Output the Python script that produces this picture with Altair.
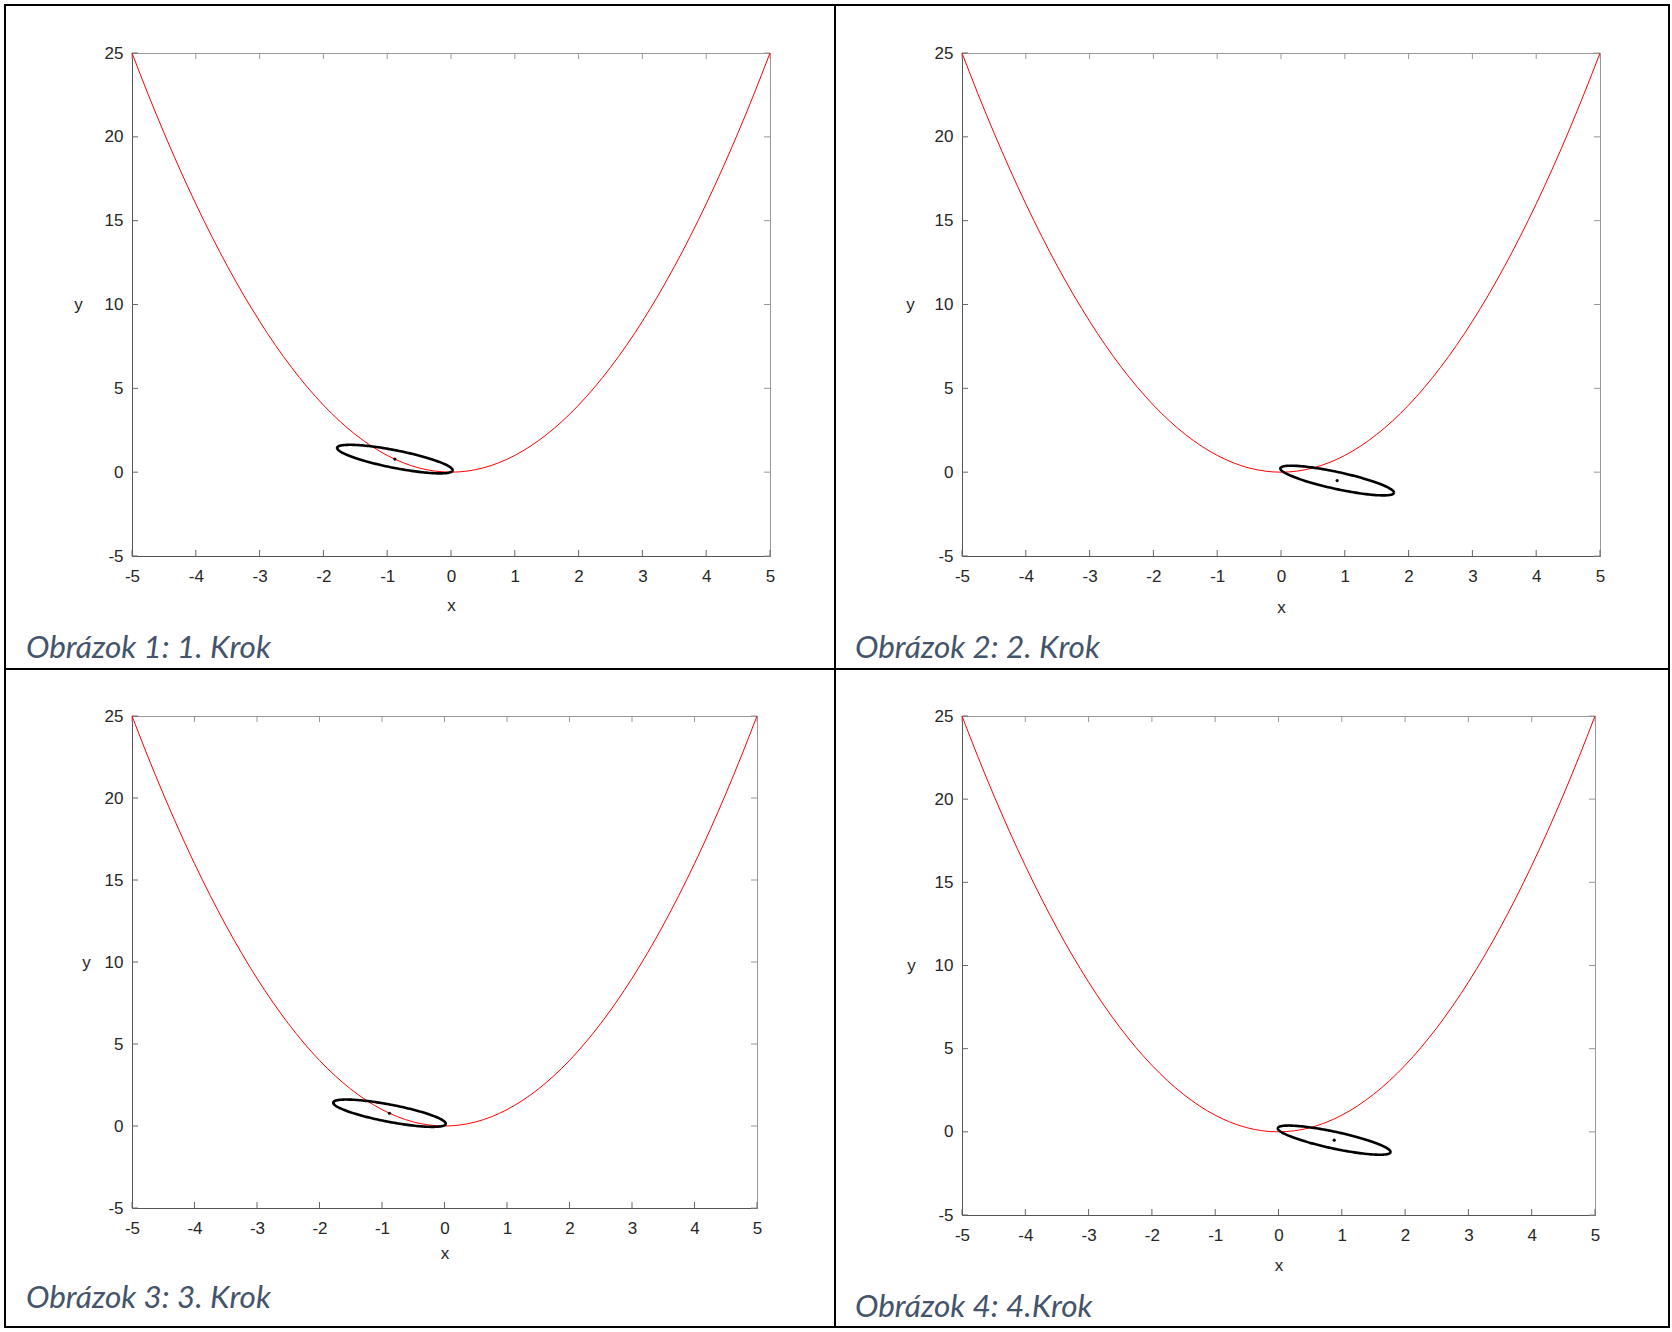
import altair as alt
import pandas as pd
import numpy as np

# ---------------- data ----------------
PARABOLA_X = [-5, -4.75, -4.5, -4.25, -4, -3.75, -3.5, -3.25, -3, -2.75, -2.5, -2.25, -2, -1.75,
              -1.5, -1.25, -1, -0.75, -0.5, -0.25, 0, 0.25, 0.5, 0.75, 1, 1.25, 1.5, 1.75, 2,
              2.25, 2.5, 2.75, 3, 3.25, 3.5, 3.75, 4, 4.25, 4.5, 4.75, 5]
PARABOLA_Y = [25, 22.5625, 20.25, 18.0625, 16, 14.0625, 12.25, 10.5625, 9, 7.5625, 6.25, 5.0625,
              4, 3.0625, 2.25, 1.5625, 1, 0.5625, 0.25, 0.0625, 0, 0.0625, 0.25, 0.5625, 1,
              1.5625, 2.25, 3.0625, 4, 5.0625, 6.25, 7.5625, 9, 10.5625, 12.25, 14.0625, 16,
              18.0625, 20.25, 22.5625, 25]
X_TICKS = [-5, -4, -3, -2, -1, 0, 1, 2, 3, 4, 5]
Y_TICKS = [-5, 0, 5, 10, 15, 20, 25]
CAPTIONS = ["Obrázok 1: 1. Krok", "Obrázok 2: 2. Krok", "Obrázok 3: 3. Krok", "Obrázok 4: 4.Krok"]

# ellipse (estimate + uncertainty) per step: centre and conjugate semi-axes
CENTER_X = [-0.88, 0.88, -0.88, 0.88]
CENTER_Y = [0.78, -0.50, 0.78, -0.50]
MAJOR_DX = [0.905, 0.89, 0.90, 0.89]
MAJOR_DY = [-0.675, -0.73, -0.65, -0.72]
MINOR_DX = [0.02, 0.02, 0.02, 0.02]
MINOR_DY = [0.52, 0.50, 0.52, 0.50]

# ---------------- layout ----------------
PANEL_W = [638, 638, 625, 633]
PANEL_H = [503, 503, 492, 499]
YTITLE_X = [-54, -52, -46, -51]
XTITLE_Y = [49, 51, 45, 50]
CAP_X = [-106, -107, -106, -107]
CAP_Y = [605, 605, 592, 601]

AXIS_DARK = "#555555"
TEXT_COL = "#262626"
FONT = "Liberation Sans"

par_df = pd.DataFrame({"x": PARABOLA_X, "y": PARABOLA_Y})
xt_df = pd.DataFrame({"v": X_TICKS})
yt_df = pd.DataFrame({"v": Y_TICKS})


def ellipse_df(i):
    t = np.linspace(0, 2 * np.pi, 181)
    return pd.DataFrame({
        "t": np.arange(len(t)),
        "x": CENTER_X[i] + MAJOR_DX[i] * np.cos(t) + MINOR_DX[i] * np.sin(t),
        "y": CENTER_Y[i] + MAJOR_DY[i] * np.cos(t) + MINOR_DY[i] * np.sin(t),
    })


def panel(i):
    W, H = PANEL_W[i], PANEL_H[i]
    xs = alt.Scale(domain=[-5, 5], nice=False, zero=False)
    ys = alt.Scale(domain=[-5, 25], nice=False, zero=False)
    xaxis = alt.Axis(values=X_TICKS, ticks=False, tickSize=0, grid=False,
                     domainColor=AXIS_DARK, domainWidth=1,
                     labelFont=FONT, labelFontSize=17, labelColor=TEXT_COL,
                     labelPadding=12, labelExpr="'' + datum.value",
                     labelFlush=False, labelOverlap=False,
                     title="x", titleFont=FONT, titleFontSize=17, titleFontWeight="normal",
                     titleColor=TEXT_COL, titleX=W / 2, titleY=XTITLE_Y[i],
                     titleAlign="center", titleBaseline="middle")
    yaxis = alt.Axis(values=Y_TICKS, ticks=False, tickSize=0, grid=False,
                     domainColor=AXIS_DARK, domainWidth=1,
                     labelFont=FONT, labelFontSize=17, labelColor=TEXT_COL,
                     labelPadding=9, labelExpr="'' + datum.value",
                     labelFlush=False, labelOverlap=False,
                     title="y", titleFont=FONT, titleFontSize=17, titleFontWeight="normal",
                     titleColor=TEXT_COL, titleAngle=0, titleX=YTITLE_X[i], titleY=H / 2,
                     titleAlign="center", titleBaseline="middle")
    X = lambda f: alt.X(f, scale=xs, axis=xaxis)
    Y = lambda f: alt.Y(f, scale=ys, axis=yaxis)

    parabola = alt.Chart(par_df).mark_line(color="#ff0000", strokeWidth=1,
                                           interpolate="monotone").encode(
        x=X("x:Q"), y=Y("y:Q"))
    ell = alt.Chart(ellipse_df(i)).mark_line(color="black", strokeWidth=2.6).encode(
        x=X("x:Q"), y=Y("y:Q"), order=alt.Order("t:Q"))
    dot = alt.Chart(pd.DataFrame({"x": [CENTER_X[i]], "y": [CENTER_Y[i]]})).mark_circle(
        color="black", size=10, opacity=1).encode(x=X("x:Q"), y=Y("y:Q"))

    tick_col = "#666666"
    tb = alt.Chart(xt_df).mark_rule(color=tick_col, strokeWidth=1).encode(
        x=X("v:Q"), y=alt.value(H), y2=alt.value(H - 6))
    tt = alt.Chart(xt_df).mark_rule(color="#999999", strokeWidth=1).encode(
        x=X("v:Q"), y=alt.value(0), y2=alt.value(6))
    tl = alt.Chart(yt_df).mark_rule(color=tick_col, strokeWidth=1).encode(
        y=Y("v:Q"), x=alt.value(0), x2=alt.value(6))
    tr = alt.Chart(yt_df).mark_rule(color="#999999", strokeWidth=1).encode(
        y=Y("v:Q"), x=alt.value(W - 6), x2=alt.value(W))

    cap = alt.Chart(pd.DataFrame({"c": [CAPTIONS[i]]})).mark_text(
        align="left", baseline="alphabetic", font="Lato", fontStyle="italic",
        fontSize=31.5, color="#44546A").encode(
        text="c:N", x=alt.value(CAP_X[i]), y=alt.value(CAP_Y[i]))

    layers = [tt, tr, tb, tl, parabola, ell, dot, cap]

    if i == 0:
        one = pd.DataFrame({"d": [0]})
        L, T, R, B, MX, MY = -127, -48, 1537, 1274, 703, 616
        def hline(y, x1, x2):
            return alt.Chart(one).mark_rule(color="black", strokeWidth=2).encode(
                x=alt.value(x1), x2=alt.value(x2), y=alt.value(y))
        def vline(x, y1, y2):
            return alt.Chart(one).mark_rule(color="black", strokeWidth=2).encode(
                y=alt.value(y1), y2=alt.value(y2), x=alt.value(x))
        layers += [hline(T, L - 1, R + 1), hline(MY, L - 1, R + 1), hline(B, L - 1, R + 1),
                   vline(L, T - 1, B + 1), vline(MX, T - 1, B + 1), vline(R, T - 1, B + 1)]

    return alt.layer(*layers).properties(width=W, height=H)


chart = alt.concat(*[panel(i) for i in range(4)], columns=2,
                   spacing={"row": 160, "column": 192}, bounds="flush").properties(
    padding={"left": 2, "top": 2, "right": 0, "bottom": 0},
    background="white",
).configure_view(stroke="#999999", strokeWidth=1)

chart.save("out.html", embed_options={"renderer": "svg", "actions": False})
